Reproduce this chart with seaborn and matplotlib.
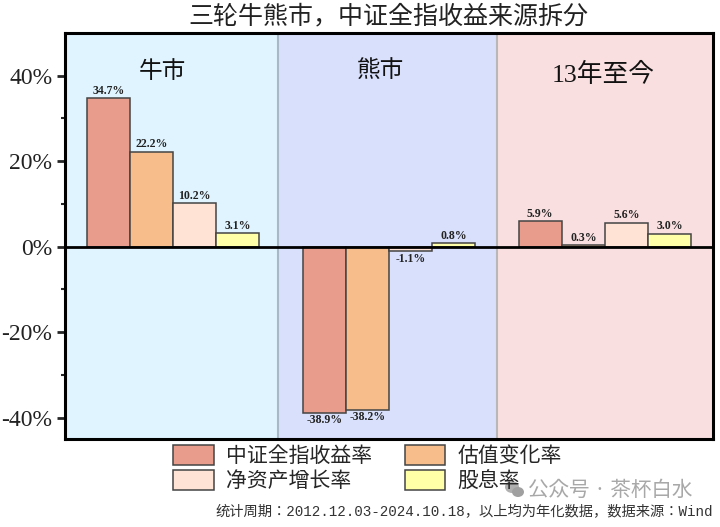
import matplotlib
import pandas as pd

matplotlib.use("Agg")
import matplotlib.pyplot as plt  # noqa: E402
import seaborn as sns  # noqa: E402
from matplotlib.patches import Ellipse, Patch  # noqa: E402

# only the JP name of the CJK collection is registered here, it holds the simplified glyphs too
CJK = "Noto Sans CJK JP"
SERIF = ["Liberation Serif", CJK]
MONO = ["Liberation Mono", CJK]

MARKETS = ["牛市", "熊市", "13年至今"]
SERIES = ["中证全指收益率", "估值变化率", "净资产增长率", "股息率"]
INDEX_RETURN = [34.7, -38.9, 5.9]
VALUATION = [22.2, -38.2, 0.3]
BOOK_GROWTH = [10.2, -1.1, 5.6]
DIVIDEND = [3.1, 0.8, 3.0]
YTICKS = [-40, -20, 0, 20, 40]
YTICK_LABELS = ["-40%", "-20%", "0%", "20%", "40%"]

BAR_COLORS = ["#E89C8C", "#F7BD8B", "#FFE3D4", "#FFFFA8"]
PANEL_COLORS = ["#DFF4FF", "#D9E0FB", "#F9DFE0"]

sns.set_theme(style="white", rc={"font.family": SERIF})

rows = []
for name, vals in zip(SERIES, [INDEX_RETURN, VALUATION, BOOK_GROWTH, DIVIDEND]):
    for market, v in zip(MARKETS, vals):
        rows.append({"market": market, "series": name, "value": v})
df = pd.DataFrame(rows)

fig = plt.figure(figsize=(7.2, 5.27), dpi=100)
ax = fig.add_axes([65 / 720, 1 - 439 / 527, 648 / 720, 406 / 527])

# background panels, the split points are a bit off the group edges in the source
edges = [-0.5, 0.484, 1.5, 2.5]
for i, c in enumerate(PANEL_COLORS):
    ax.axvspan(edges[i], edges[i + 1], color=c, lw=0)
ax.axvline(edges[1], color="#A8B8C6", lw=1.5)
ax.axvline(edges[2], color="#B8B8B8", lw=1.5)

sns.barplot(data=df, x="market", y="value", hue="series", hue_order=SERIES,
            order=MARKETS, palette=BAR_COLORS, edgecolor="#444444", linewidth=1.1,
            errorbar=None, width=0.8, gap=0, saturation=1, legend=False, ax=ax)

for cont in ax.containers:
    ax.bar_label(cont, fmt="%.1f%%", padding=1, fontsize=8.5, fontweight="bold",
                 family=SERIF, color="#222222")

ax.axhline(0, color="black", lw=2)
ax.set_xlim(-0.5, 2.5)
ax.set_ylim(-45, 50)
ax.set(xlabel="", ylabel="")
ax.set_xticks([])
ax.set_yticks(YTICKS, YTICK_LABELS, fontsize=17, color="#222222")
ax.set_yticks([-30, -10, 10, 30], minor=True)
ax.tick_params(axis="y", which="major", left=True, length=6, width=2, pad=3)
ax.tick_params(axis="y", which="minor", left=True, length=3, width=1.5)
for sp in ax.spines.values():
    sp.set_visible(True)
    sp.set_color("black")
    sp.set_linewidth(2.2)

# panel headings sit off-centre in the source
for name, x, y, size in zip(MARKETS, [-0.05, 0.96, 1.99], [40.9, 41.1, 40.2], [17, 17, 18.5]):
    ax.text(x, y, name, ha="center", va="center", fontsize=size, color="#111111")

fig.text(388 / 720, 1 - 17 / 527, "三轮牛熊市，中证全指收益来源拆分", ha="center", va="center",
         fontsize=18, color="#222222")

order = [0, 2, 1, 3]
handles = [Patch(facecolor=BAR_COLORS[i], edgecolor="#444444", linewidth=1.1) for i in order]
labels = [SERIES[i] for i in order]
fig.legend(handles, labels, loc="upper left", bbox_to_anchor=(173 / 720, 1 - 445 / 527),
           bbox_transform=fig.transFigure, ncol=2, frameon=False, fontsize=15,
           handlelength=1.95, handleheight=1.1, handletextpad=0.6, labelspacing=0.12,
           columnspacing=1.55, borderaxespad=0, borderpad=0)

fig.text(215 / 720, 1 - 511 / 527, "统计周期：2012.12.03-2024.10.18，以上均为年化数据，数据来源：Wind",
         ha="left", va="center", fontsize=10.3, family=MONO, color="#333333")

# watermark
fig.text(692 / 720, 1 - 490 / 527, "公众号 · 茶杯白水", ha="right", va="center",
         fontsize=14.8, family=CJK, color="#A8A8A8")
fig.add_artist(Ellipse((512 / 720, 1 - 487 / 527), 14 / 720, 12 / 527,
                       transform=fig.transFigure, color="#B0B0B0", lw=0))
fig.add_artist(Ellipse((518 / 720, 1 - 492 / 527), 12 / 720, 10 / 527,
                       transform=fig.transFigure, color="#A0A0A0", lw=0))

fig.savefig("out.png", dpi=100)
